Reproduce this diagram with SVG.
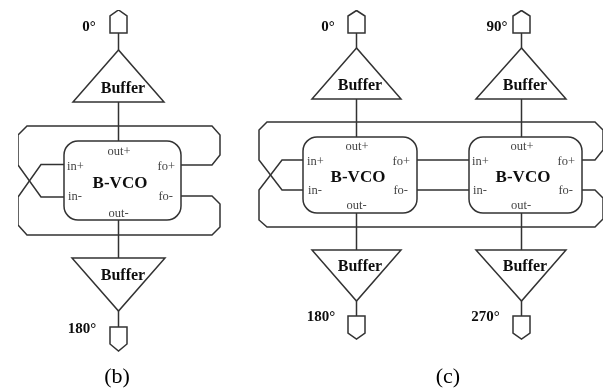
<svg xmlns="http://www.w3.org/2000/svg" width="605" height="388" viewBox="0 0 605 388">
<defs><filter id="soft" x="0" y="0" width="100%" height="100%"><feGaussianBlur stdDeviation="0.45"/></filter></defs>
<style>
.s{fill:#fff;stroke:#333;stroke-width:1.5;stroke-linejoin:miter}
.w{fill:none;stroke:#333;stroke-width:1.5}
text{font-family:"Liberation Serif","Times New Roman",serif;fill:#111}
.b{font-weight:bold;font-size:16px;text-anchor:middle}
.v{font-weight:bold;font-size:17px;text-anchor:middle}
.d{font-weight:bold;font-size:15px;text-anchor:middle}
.p{font-size:12.500px;fill:#444}
.m{text-anchor:middle}
.e{text-anchor:end}
.c{font-size:22px;text-anchor:middle;fill:#000}
</style>
<rect width="605" height="388" fill="#fff"/>
<g filter="url(#soft)">
<g id="connectors">
<path class="w" d="M118.500 33V50M118.500 102V141M118.500 220V258M118.500 311V327"/>
<path class="w" d="M64 164.500H41L18 197V225L27 235H212L220 227V204L212 196H181"/>
<path class="w" d="M64 197H41L18 165V135L27 126H212L220 135V155L212 165H181"/>
<path class="w" d="M356.500 33V48M356.500 99V137M356.500 213V250M356.500 301V316"/>
<path class="w" d="M521.500 33V48M521.500 99V137M521.500 213V250M521.500 301V316"/>
<path class="w" d="M303 160H282L259 190V220L267 227H595L603 219V198L595 190H582"/>
<path class="w" d="M303 190H282L259 160V130L267 122H595L603 130V150L595 160H582"/>
<path class="w" d="M417 160H469M417 190H469"/>
</g>
<g id="b-port-top"><path class="s" d="M110 33V16L118.500 10L127 16V33Z"/><text class="d" x="89" y="31">0°</text></g>
<g id="b-buffer-top"><path class="s" d="M118.500 50L73 102H164Z"/><text class="b" x="123" y="93">Buffer</text></g>
<g id="b-vco"><rect class="s" x="64" y="141" width="117" height="79" rx="14"/>
<text class="v" x="120" y="188">B-VCO</text>
<text class="p m" x="119" y="155">out+</text><text class="p" x="67" y="170">in+</text><text class="p" x="68" y="200">in-</text><text class="p e" x="175" y="170">fo+</text><text class="p e" x="173" y="200">fo-</text><text class="p m" x="118.500" y="217">out-</text></g>
<g id="b-buffer-bottom"><path class="s" d="M72 258H165L118.500 311Z"/><text class="b" x="123" y="280">Buffer</text></g>
<g id="b-port-bottom"><path class="s" d="M110 327H127V344L118.500 351L110 344Z"/><text class="d" x="82" y="333">180°</text></g>

<g id="c-port-0"><path class="s" d="M348 33V16L356.500 10.500L365 16V33Z"/><text class="d" x="328" y="31">0°</text></g>
<g id="c-buffer-0"><path class="s" d="M356.500 48L312 99H401Z"/><text class="b" x="360" y="90">Buffer</text></g>
<g id="c-vco-1"><rect class="s" x="303" y="137" width="114" height="76" rx="14"/>
<text class="v" x="358" y="182">B-VCO</text>
<text class="p m" x="357" y="150">out+</text><text class="p" x="307" y="165">in+</text><text class="p" x="308" y="194">in-</text><text class="p e" x="410" y="165">fo+</text><text class="p e" x="408" y="194">fo-</text><text class="p m" x="356.500" y="209">out-</text></g>
<g id="c-buffer-180"><path class="s" d="M312 250H401L356.500 301Z"/><text class="b" x="360" y="271">Buffer</text></g>
<g id="c-port-180"><path class="s" d="M348 316H365V333L356.500 339L348 333Z"/><text class="d" x="321" y="321">180°</text></g>

<g id="c-port-90"><path class="s" d="M513 33V16L521.500 10.500L530 16V33Z"/><text class="d" x="497" y="31">90°</text></g>
<g id="c-buffer-90"><path class="s" d="M521.500 48L476 99H566Z"/><text class="b" x="525" y="90">Buffer</text></g>
<g id="c-vco-2"><rect class="s" x="469" y="137" width="113" height="76" rx="14"/>
<text class="v" x="523" y="182">B-VCO</text>
<text class="p m" x="522" y="150">out+</text><text class="p" x="472" y="165">in+</text><text class="p" x="473" y="194">in-</text><text class="p e" x="575" y="165">fo+</text><text class="p e" x="573" y="194">fo-</text><text class="p m" x="521" y="209">out-</text></g>
<g id="c-buffer-270"><path class="s" d="M476 250H566L521.500 301Z"/><text class="b" x="525" y="271">Buffer</text></g>
<g id="c-port-270"><path class="s" d="M513 316H530V333L521.500 339L513 333Z"/><text class="d" x="485.500" y="321">270°</text></g>
<text class="c" x="117" y="383">(b)</text>
<text class="c" x="448" y="383">(c)</text>
</g>
</svg>
